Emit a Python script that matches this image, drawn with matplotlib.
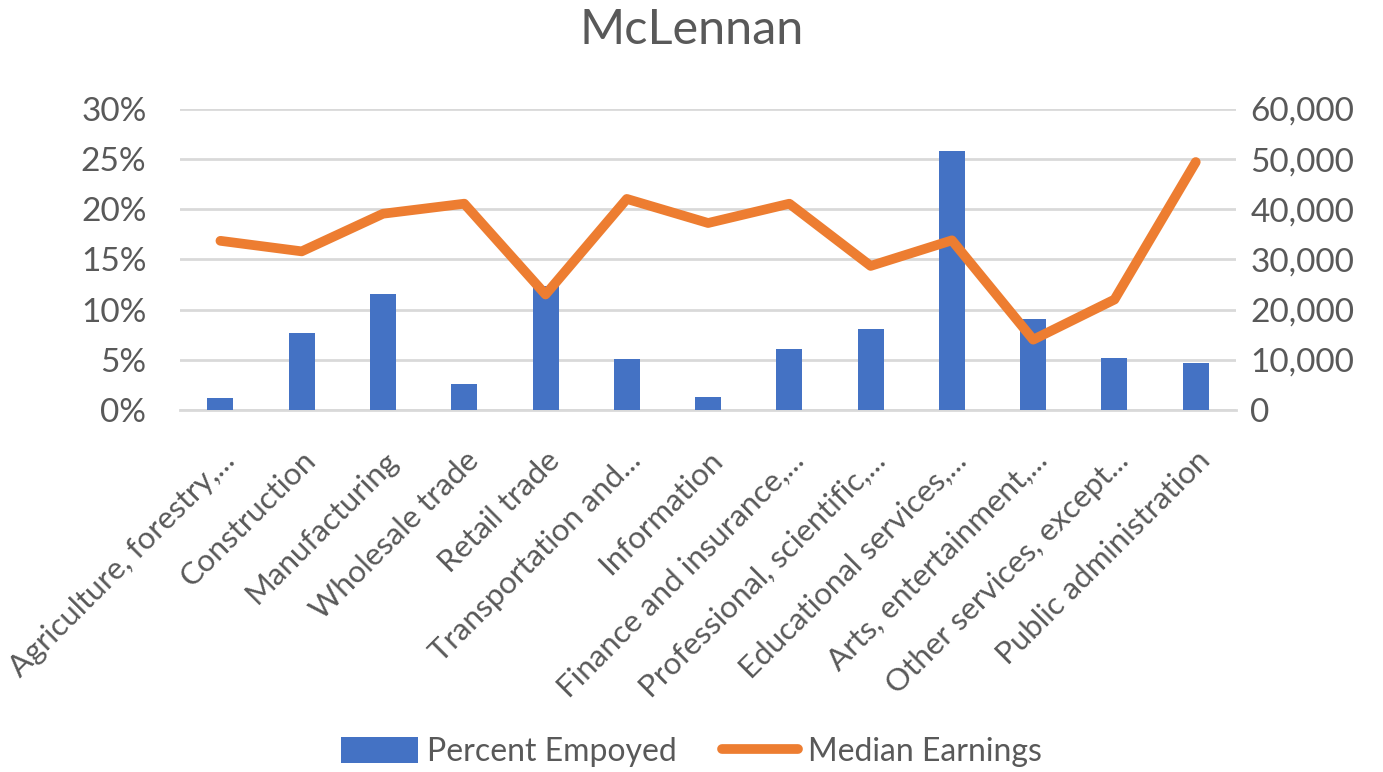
import matplotlib.pyplot as plt
from matplotlib.ticker import FuncFormatter, MultipleLocator

categories = ["Agriculture, forestry,...", "Construction", "Manufacturing", "Wholesale trade",
              "Retail trade", "Transportation and...", "Information", "Finance and insurance,...",
              "Professional, scientific,...", "Educational services,...", "Arts, entertainment,...",
              "Other services, except...", "Public administration"]
pct_employed = [1.17, 7.65, 11.55, 2.56, 12.3, 5.06, 1.27, 6.06, 8.05, 25.8, 9.05, 5.16, 4.66]
median_earnings = [33700, 31600, 39100, 41100, 23000, 42050, 37250, 41100, 28700, 33800, 14000, 22000, 49400]

grey = "#595959"
plt.rcParams['font.family'] = ['Lato', 'DejaVu Sans']

fig = plt.figure(figsize=(13.83, 7.72), dpi=100)
ax = fig.add_axes([0.130, 0.469, 0.764, 0.390])
ax2 = ax.twinx()

x = list(range(len(categories)))
b = ax.bar(x, pct_employed, width=0.32, color="#4472C4", label="Percent Empoyed", zorder=3)
l, = ax2.plot(x, median_earnings, color="#ED7D31", linewidth=7, solid_capstyle="round",
              solid_joinstyle="round", label="Median Earnings")

ax.set_xlim(-0.5, len(categories) - 0.5)
ax.set_ylim(0, 30)
ax2.set_ylim(0, 60000)
ax.yaxis.set_major_locator(MultipleLocator(5))
ax2.yaxis.set_major_locator(MultipleLocator(10000))
ax.yaxis.set_major_formatter(FuncFormatter(lambda v, p: f"{v:.0f}%"))
ax2.yaxis.set_major_formatter(FuncFormatter(lambda v, p: f"{v:,.0f}"))

ax.grid(axis="y", color="#d9d9d9", linewidth=2, zorder=0)
ax.set_axisbelow(True)
for a in (ax, ax2):
    for s in a.spines.values():
        s.set_visible(False)
    a.tick_params(length=0, labelsize=24, colors=grey)
ax.tick_params(axis="y", pad=24)
ax2.tick_params(axis="y", pad=10)
ax.spines["bottom"].set_visible(True)
ax.spines["bottom"].set_color("#d9d9d9")
ax.spines["bottom"].set_linewidth(2)

ax.set_xticks(x)
ax.set_xticklabels(categories, rotation=45, ha="right", rotation_mode="anchor", fontsize=22.5, color=grey)
ax.tick_params(axis="x", pad=26)

fig.suptitle("McLennan", fontsize=35, color=grey, y=0.99)

fig.legend([b, l], ["Percent Empoyed", "Median Earnings"], loc="center", ncol=2,
           bbox_to_anchor=(0.5, 0.026), frameon=False, fontsize=23, labelcolor=grey,
           handlelength=2.4, handleheight=0.9, handletextpad=0.3, columnspacing=1.4,
           borderpad=0)

fig.savefig("out.png", dpi=100)
